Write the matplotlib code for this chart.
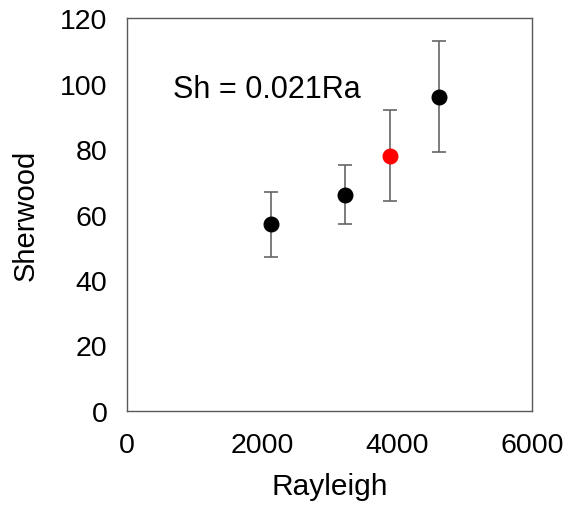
import matplotlib
matplotlib.use("Agg")
import matplotlib.pyplot as plt

plt.rcParams['font.family'] = ['Liberation Sans', 'DejaVu Sans']

# Data
rayleigh = [2140, 3230, 3900, 4620]
sherwood = [57, 66, 78, 96]
err_low = [10, 9, 14, 17]
err_high = [10, 9, 14, 17]
colors = ['black', 'black', 'red', 'black']

fig = plt.figure(figsize=(5.68, 5.10), dpi=100)
ax = fig.add_axes([0.2236, 0.1922, 0.7130, 0.7705])

for x, y, lo, hi, c in zip(rayleigh, sherwood, err_low, err_high, colors):
    ax.errorbar(x, y, yerr=[[lo], [hi]], fmt='o', color=c, markersize=10.5,
                ecolor='#666666', elinewidth=1.2, capsize=4.7, capthick=1.2, zorder=3)

ax.text(680, 98.3, "Sh = 0.021Ra", fontsize=22, va='center', ha='left')

ax.set_xlim(0, 6000)
ax.set_ylim(0, 120)
ax.set_xticks([0, 2000, 4000, 6000])
ax.set_yticks([0, 20, 40, 60, 80, 100, 120])
ax.tick_params(length=0, labelsize=20.5)
ax.tick_params(axis='x', pad=15)
ax.tick_params(axis='y', pad=14)
ax.set_xlabel("Rayleigh", fontsize=21.5, labelpad=10)
ax.set_ylabel("Sherwood", fontsize=21, labelpad=15)
for s in ax.spines.values():
    s.set_color('#595959')
    s.set_linewidth(1.0)

fig.savefig("out.png", dpi=100)
